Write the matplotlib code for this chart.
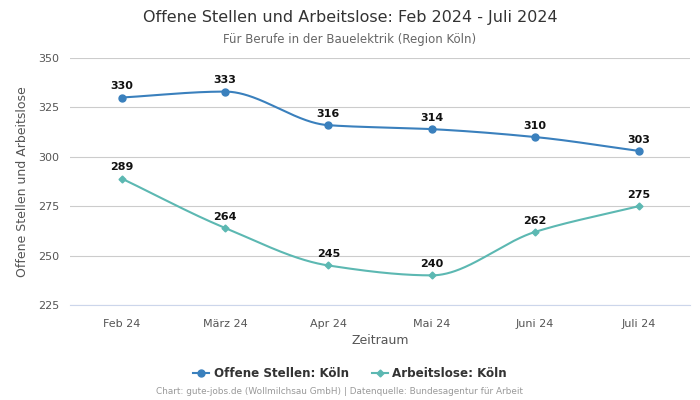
import numpy as np
import matplotlib
matplotlib.use("Agg")
import matplotlib.pyplot as plt

categories = ["Feb 24", "März 24", "Apr 24", "Mai 24", "Juni 24", "Juli 24"]
offene_stellen = [330, 333, 316, 314, 310, 303]
arbeitslose = [289, 264, 245, 240, 262, 275]
yticks = [225, 250, 275, 300, 325, 350]

c_blue = "#3a80bd"
c_teal = "#5cb8b2"


def pchip(x, y, n=200):
    x = np.asarray(x, float)
    y = np.asarray(y, float)
    h = np.diff(x)
    d = np.diff(y) / h
    m = np.zeros_like(y)
    for k in range(1, len(y) - 1):
        if d[k - 1] * d[k] > 0:
            w1 = 2 * h[k] + h[k - 1]
            w2 = h[k] + 2 * h[k - 1]
            m[k] = (w1 + w2) / (w1 / d[k - 1] + w2 / d[k])
        else:
            m[k] = 0.0
    m[0] = d[0]
    m[-1] = d[-1]
    xs, ys = [], []
    for k in range(len(x) - 1):
        t = np.linspace(0, 1, n)
        hk = h[k]
        h00 = 2 * t**3 - 3 * t**2 + 1
        h10 = t**3 - 2 * t**2 + t
        h01 = -2 * t**3 + 3 * t**2
        h11 = t**3 - t**2
        xs.append(x[k] + t * hk)
        ys.append(h00 * y[k] + h10 * hk * m[k] + h01 * y[k + 1] + h11 * hk * m[k + 1])
    return np.concatenate(xs), np.concatenate(ys)


fig = plt.figure(figsize=(7, 4), dpi=100)
ax = fig.add_axes([0.1, 0.2375, 0.886, 0.6175])

xi = np.arange(len(categories))
for vals, col, mk, ms, lab in [
    (offene_stellen, c_blue, "o", 5, "Offene Stellen: Köln"),
    (arbeitslose, c_teal, "D", 3.5, "Arbeitslose: Köln"),
]:
    sx, sy = pchip(xi, vals)
    ax.plot(sx, sy, color=col, lw=1.5, zorder=3)
    ax.plot(xi, vals, linestyle="none", marker=mk, markersize=ms, color=col, zorder=4)
    ax.plot([], [], color=col, lw=1.5, marker=mk, markersize=ms, label=lab)
    for x, v in zip(xi, vals):
        ax.annotate(str(v), (x, v), xytext=(0, 4.5), textcoords="offset points",
                    ha="center", va="bottom", fontsize=8, fontweight="bold", color="#111111")

ax.set_xlim(-0.5, len(categories) - 0.5)
ax.set_ylim(225, 350)
ax.set_yticks(yticks)
ax.set_xticks(xi)
ax.set_xticklabels(categories)
ax.grid(axis="y", color="#cccccc", lw=0.8)
ax.set_axisbelow(True)
for s in ["top", "right", "left"]:
    ax.spines[s].set_visible(False)
ax.spines["bottom"].set_color("#ccd6eb")
ax.tick_params(axis="both", length=0, labelsize=8, colors="#555555", pad=8)
ax.tick_params(axis="x", pad=10)
ax.set_xlabel("Zeitraum", fontsize=9, color="#555555", labelpad=4)
ax.set_ylabel("Offene Stellen und Arbeitslose", fontsize=9, color="#555555", labelpad=6)

fig.text(0.5, 0.957, "Offene Stellen und Arbeitslose: Feb 2024 - Juli 2024",
         ha="center", va="center", fontsize=11.5, color="#333333")
fig.text(0.5, 0.902, "Für Berufe in der Bauelektrik (Region Köln)",
         ha="center", va="center", fontsize=8.5, color="#666666")

leg = fig.legend(loc="center", bbox_to_anchor=(0.5, 0.067), ncol=2, frameon=False,
                 prop={"weight": "bold", "size": 8.6}, handlelength=1.35,
                 handletextpad=0.4, columnspacing=1.9)
for t in leg.get_texts():
    t.set_color("#333333")

fig.text(0.485, 0.02, "Chart: gute-jobs.de (Wollmilchsau GmbH) | Datenquelle: Bundesagentur für Arbeit",
         ha="center", va="center", fontsize=6.4, color="#999999")

fig.savefig("out.png", dpi=100)
